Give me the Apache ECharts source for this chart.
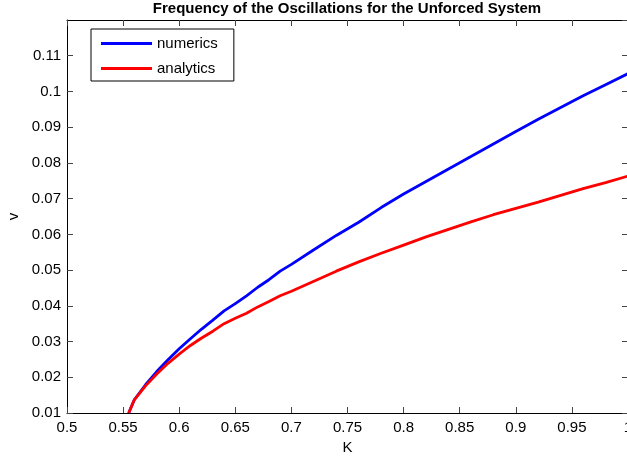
<!DOCTYPE html>
<html>
<head>
<meta charset="utf-8">
<title>Frequency of the Oscillations for the Unforced System</title>
<script src="https://cdn.jsdelivr.net/npm/echarts@6/dist/echarts.min.js"></script>
<style>
  html, body { margin: 0; padding: 0; background: #fff; }
  #chart { width: 627px; height: 461px; }
</style>
</head>
<body>
<div id="chart"></div>
<script>
  // K values shared by both curves
  var kValues = [0.555, 0.56, 0.57, 0.58, 0.59, 0.60, 0.61, 0.62, 0.63, 0.64, 0.65,
    0.66, 0.67, 0.68, 0.69, 0.70, 0.72, 0.74, 0.76, 0.78, 0.80, 0.82, 0.84, 0.86,
    0.88, 0.90, 0.92, 0.94, 0.96, 0.98, 1.00];
  // frequency from numerics
  var numerics = [0.0100, 0.0137, 0.0179, 0.0216, 0.0249, 0.0280, 0.0308, 0.0335, 0.0360, 0.0386, 0.0406,
    0.0428, 0.0452, 0.0473, 0.0497, 0.0516, 0.0557, 0.0597, 0.0634, 0.0675, 0.0713, 0.0748, 0.0783, 0.0818,
    0.0853, 0.0888, 0.0922, 0.0955, 0.0988, 0.1019, 0.1050];
  // frequency from analytics
  var analytics = [0.0100, 0.0137, 0.0176, 0.0209, 0.0239, 0.0265, 0.0289, 0.0310, 0.0329, 0.0350, 0.0365,
    0.0379, 0.0397, 0.0412, 0.0428, 0.0441, 0.0469, 0.0497, 0.0523, 0.0547, 0.0570, 0.0593, 0.0614, 0.0635,
    0.0655, 0.0673, 0.0690, 0.0709, 0.0728, 0.0745, 0.0763];

  var xRange = [0.5, 1.0], xStep = 0.05;
  var yRange = [0.01, 0.12], yStep = 0.01;

  var font = 'Liberation Sans, Arial, Helvetica, sans-serif';

  function pairs(ys) {
    return kValues.map(function (k, i) { return [k, ys[i]]; });
  }

  var tickStyle = { show: true, inside: true, length: 6, lineStyle: { color: '#444', width: 1 } };
  var lineBlack = { show: true, onZero: false, lineStyle: { color: '#000', width: 1 } };

  var chart = echarts.init(document.getElementById('chart'), null, { renderer: 'canvas' });
  chart.setOption({
    animation: false,
    backgroundColor: '#fff',
    textStyle: { fontFamily: font },
    title: {
      text: 'Frequency of the Oscillations for the Unforced System',
      left: 347, top: 1, padding: 0, textAlign: 'center',
      textStyle: { fontFamily: font, fontSize: 15, fontWeight: 'bold', color: '#000' }
    },
    grid: { left: 67, top: 20, right: -1, bottom: 48, outerBoundsMode: 'none' },
    legend: {
      orient: 'vertical', left: 91, top: 29,
      padding: [7, 16, 5, 10], itemGap: 10,
      icon: 'rect', itemWidth: 51, itemHeight: 3,
      borderColor: '#000', borderWidth: 1, backgroundColor: '#fff',
      textStyle: { fontFamily: font, fontSize: 15, color: '#000' },
      data: ['numerics', 'analytics']
    },
    xAxis: [{
      type: 'value', position: 'bottom',
      min: xRange[0], max: xRange[1], interval: xStep,
      name: 'K', nameLocation: 'middle', nameGap: 25,
      nameTextStyle: { fontFamily: font, fontSize: 15, color: '#000' },
      axisLine: lineBlack, axisTick: tickStyle, splitLine: { show: false },
      axisLabel: { margin: 7, fontFamily: font, fontSize: 15, color: '#000' }
    }, {
      type: 'value', position: 'top',
      min: xRange[0], max: xRange[1], interval: xStep,
      axisLine: lineBlack, axisTick: tickStyle, splitLine: { show: false },
      axisLabel: { show: false }
    }],
    yAxis: [{
      type: 'value', position: 'left',
      min: yRange[0], max: yRange[1], interval: yStep,
      name: 'v', nameLocation: 'middle', nameGap: 44, nameRotate: 90,
      nameTextStyle: { fontFamily: font, fontSize: 15, color: '#000' },
      axisLine: lineBlack, axisTick: tickStyle, splitLine: { show: false },
      axisLabel: { margin: 6, showMaxLabel: false, fontFamily: font, fontSize: 15, color: '#000' }
    }, {
      type: 'value', position: 'right',
      min: yRange[0], max: yRange[1], interval: yStep,
      axisLine: lineBlack, axisTick: tickStyle, splitLine: { show: false },
      axisLabel: { show: false }
    }],
    series: [{
      name: 'numerics', type: 'line', symbol: 'none',
      xAxisIndex: 0, yAxisIndex: 0,
      lineStyle: { color: '#0000ff', width: 2.8 }, itemStyle: { color: '#0000ff' },
      data: pairs(numerics)
    }, {
      name: 'analytics', type: 'line', symbol: 'none',
      xAxisIndex: 0, yAxisIndex: 0,
      lineStyle: { color: '#ff0000', width: 2.8 }, itemStyle: { color: '#ff0000' },
      data: pairs(analytics)
    }]
  });
</script>
</body>
</html>
